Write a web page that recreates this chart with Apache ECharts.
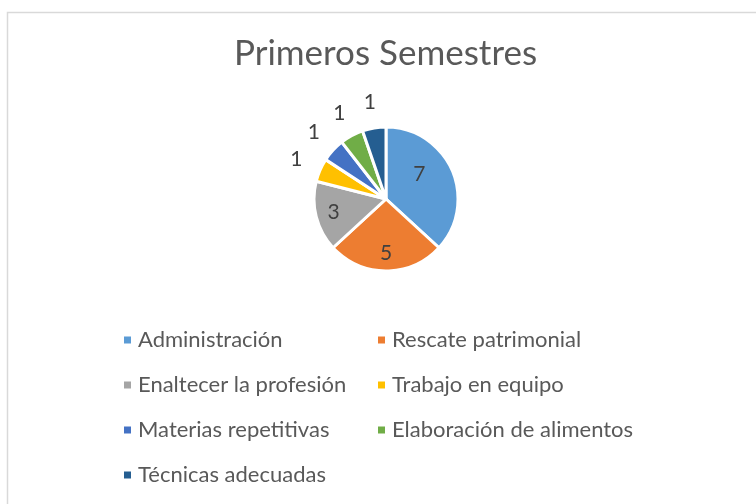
<!DOCTYPE html>
<html>
<head>
<meta charset="utf-8">
<script src="https://cdn.jsdelivr.net/npm/echarts@6/dist/echarts.min.js"></script>
<style>
  html, body { margin: 0; padding: 0; background: #fff; }
  #chart { width: 756px; height: 504px; }
</style>
</head>
<body>
<div id="chart"></div>
<script>
// Primeros Semestres: pastel de 7 categorías, leyenda en dos columnas
const categories = [
  "Administración", "Rescate patrimonial", "Enaltecer la profesión", "Trabajo en equipo",
  "Materias repetitivas", "Elaboración de alimentos", "Técnicas adecuadas"
];
const values = [7, 5, 3, 1, 1, 1, 1];
const colors = ["#5B9BD5", "#ED7D31", "#A5A5A5", "#FFC000", "#4472C4", "#70AD47", "#255E91"];
const legendLeft = ["Administración", "Enaltecer la profesión", "Materias repetitivas", "Técnicas adecuadas"];
const legendRight = ["Rescate patrimonial", "Trabajo en equipo", "Elaboración de alimentos"];

const font = "Lato, 'Open Sans', sans-serif";
const chart = echarts.init(document.getElementById("chart"));

const legendBase = {
  orient: "vertical", top: 324, itemWidth: 9, itemHeight: 9, itemGap: 23, icon: "rect",
  textStyle: { fontFamily: font, fontSize: 22, color: "#595959", padding: [0, 0, 0, 1] },
  selectedMode: false,
};

// capas de etiquetas: pasteles transparentes que sólo sirven para colocar los números
const pieBase = {
  type: "pie", center: [386, 199], startAngle: 90, clockwise: true,
  avoidLabelOverlap: false, silent: true, emphasis: { disabled: true },
  labelLine: { show: false },
};
const labelStyle = { fontFamily: font, fontSize: 21, color: "#404040", formatter: "{c}" };

chart.setOption({
  color: colors,
  animation: false,
  graphic: [{
    type: "rect", left: 5, top: 10, shape: { width: 760, height: 510 },
    style: { fill: "none", stroke: "#d9d9d9", lineWidth: 1.5 },
  }],
  title: {
    text: "Primeros Semestres", left: 229, top: 31,
    textStyle: { fontFamily: font, fontSize: 35, fontWeight: "normal", color: "#595959" },
  },
  legend: [
    Object.assign({ left: 117, data: legendLeft }, legendBase),
    Object.assign({ left: 371, data: legendRight }, legendBase),
  ],
  series: [
    Object.assign({}, pieBase, {
      radius: 72,
      itemStyle: { borderColor: "#fff", borderWidth: 3 },
      label: { show: false },
      data: categories.map((c, i) => ({ name: c, value: values[i] })),
    }),
    Object.assign({}, pieBase, {
      radius: 102,
      itemStyle: { color: "transparent" },
      data: categories.map((c, i) => ({
        name: c, value: values[i],
        label: Object.assign({ show: values[i] > 1, position: "inside" }, labelStyle,
          i === 0 ? { offset: [-16, -3] } : {}),
      })),
    }),
    Object.assign({}, pieBase, {
      radius: [86, 104],
      itemStyle: { color: "transparent" },
      data: categories.map((c, i) => ({
        name: c, value: values[i],
        label: Object.assign({ show: values[i] === 1, position: "inside" }, labelStyle),
      })),
    }),
  ],
});
</script>
</body>
</html>
